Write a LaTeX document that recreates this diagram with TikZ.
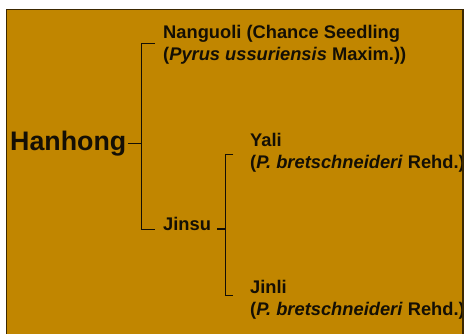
\documentclass[tikz,border=0pt]{standalone}
\usepackage{fontspec}
\setmainfont{Liberation Sans}
\definecolor{bg}{RGB}{193,134,0}
\definecolor{bordercol}{RGB}{60,40,0}
\definecolor{inkcol}{RGB}{20,15,5}
\begin{document}
\begin{tikzpicture}[x=1pt,y=-1pt,
  lab/.style={inner sep=0pt, anchor=base west, text=inkcol, font=\fontsize{18.3}{21}\selectfont\bfseries},
  big/.style={inner sep=0pt, anchor=base west, text=inkcol, font=\fontsize{26.8}{30}\selectfont\bfseries},
  ln/.style={line width=1.2pt, draw=inkcol}]
\useasboundingbox (0,0) rectangle (464,333);
\clip (0,0) rectangle (464,333);
\fill[bg] (6.5,9.5) rectangle (463,340);
% labels
\node[big] (han) at (10,150) {Hanhong};
\node[lab] (nan1) at (163,38.5) {Nanguoli (Chance Seedling};
\node[lab] (nan2) at (163,60) {(\textit{Pyrus ussuriensis} Maxim.))};
\node[lab] (jinsu) at (163,230) {Jinsu};
\node[lab] (yali1) at (250,146.7) {Yali};
\node[lab] (yali2) at (250,168.3) {(\textit{P. bretschneideri} Rehd.)};
\node[lab] (jinli1) at (250,293.3) {Jinli};
\node[lab] (jinli2) at (250,315) {(\textit{P. bretschneideri} Rehd.)};
% bracket 1
\coordinate (s1) at (141.7,0);
\coordinate (b1t) at (155,43.3);
\coordinate (b1b) at (155,229.5);
\draw[ln] (b1t) -- (b1t -| s1) -- (b1b -| s1) -- (b1b);
\draw[ln] ([xshift=1.5pt]han.east) -- (han.east -| s1);
% bracket 2
\coordinate (s2) at (225.7,0);
\coordinate (b2t) at (233.3,154.3);
\coordinate (b2b) at (233.3,295.7);
\coordinate (jc) at (217.3,229);
\draw[ln] (b2t) -- (b2t -| s2) -- (b2b -| s2) -- (b2b);
\draw[ln] (jc) -- (jc -| s2);
% border
\draw[bordercol, line width=1.2pt] (6.5,340) -- (6.5,9.5) -- (463,9.5) -- (463,340);
\end{tikzpicture}
\end{document}
